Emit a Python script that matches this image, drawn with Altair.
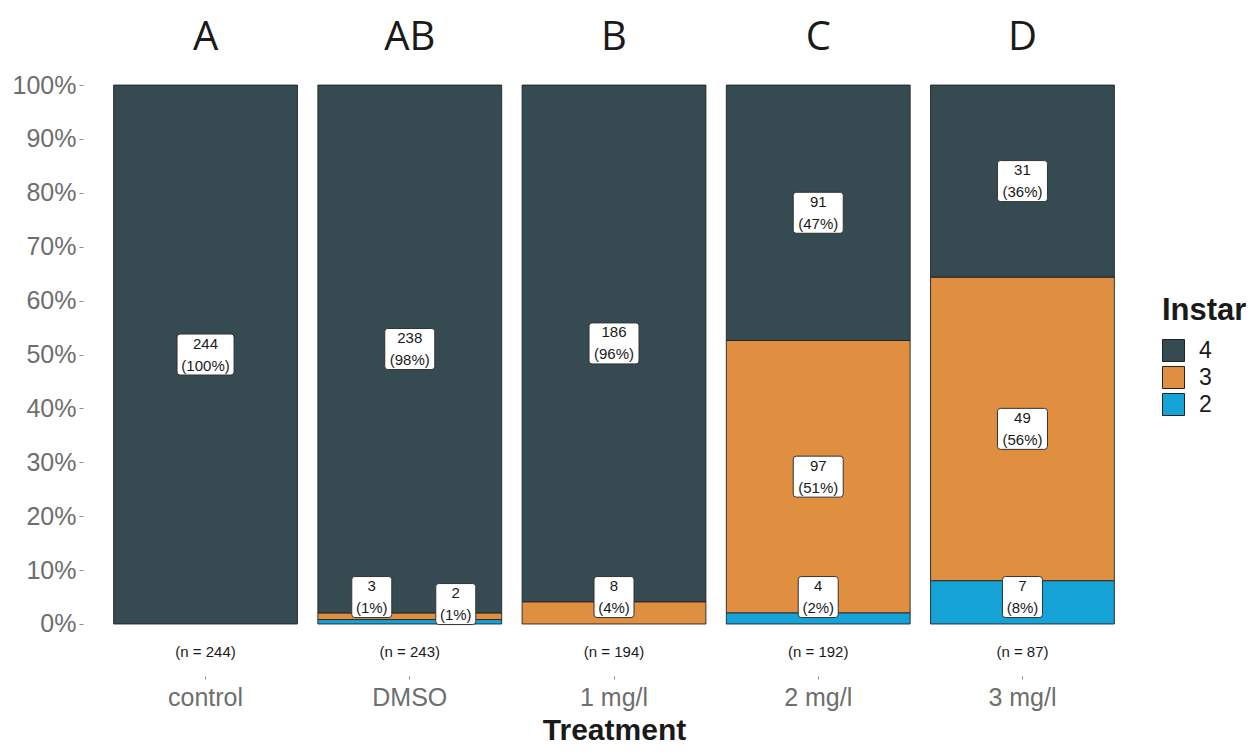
import altair as alt
import pandas as pd

treatments = ["control", "DMSO", "1 mg/l", "2 mg/l", "3 mg/l"]
letters = ["A", "AB", "B", "C", "D"]
instars = ["4", "3", "2"]
counts_4 = [244, 238, 186, 91, 31]
counts_3 = [0, 3, 8, 97, 49]
counts_2 = [0, 2, 0, 4, 7]
colors = ["#364A52", "#DF8F3F", "#15A3D7"]

# label nudges (pixels) for the repelled DMSO labels
nudges = {("DMSO", "3"): (-38, 0), ("DMSO", "2"): (46, 7)}

rows = []
for i, t in enumerate(treatments):
    total = counts_4[i] + counts_3[i] + counts_2[i]
    base = 0.0
    for inst, c in (("2", counts_2[i]), ("3", counts_3[i]), ("4", counts_4[i])):
        if c == 0:
            continue
        frac = c / total
        mid = base + frac / 2
        pct = f"({round(frac * 100)}%)"
        rows.append(dict(
            key=f"{t}|{inst}", treatment=t, instar=inst, order=int(inst), count=c,
            y0=base, y1=base + frac, ly=max(mid, 0.05),
            label=f"{c}\n{pct}", nch=len(pct),
        ))
        base += frac
df = pd.DataFrame(rows)

totals = [counts_4[i] + counts_3[i] + counts_2[i] for i in range(len(treatments))]
df_top = pd.DataFrame({
    "treatment": treatments,
    "letter": letters,
    "ntext": [f"(n = {n})" for n in totals],
    "ly": [1.088] * len(treatments),
    "ny": [-0.052] * len(treatments),
})

BOX_H = 41.0
BOX_R = BOX_H / 2


def box_path(w, dx=0.0, dy=0.0, r=3.0):
    hw = w / BOX_H
    rr = r / BOX_R
    ox, oy = dx / BOX_R, dy / BOX_R

    def p(x, y):
        return f"{x + ox:.4f},{y + oy:.4f}"

    return (f"M{p(-hw+rr,-1)} L{p(hw-rr,-1)} Q{p(hw,-1)} {p(hw,-1+rr)} L{p(hw,1-rr)} "
            f"Q{p(hw,1)} {p(hw-rr,1)} L{p(-hw+rr,1)} Q{p(-hw,1)} {p(-hw,1-rr)} "
            f"L{p(-hw,-1+rr)} Q{p(-hw,-1)} {p(-hw+rr,-1)} Z")


box_widths = {4: 40, 5: 50, 6: 57}

ydom = [-0.0965, 1.143]
yscale = alt.Scale(domain=ydom, nice=False, zero=False)
xsort = treatments

xenc = alt.X(
    "treatment:N", sort=xsort,
    scale=alt.Scale(paddingInner=0.1, paddingOuter=0.15),
    axis=alt.Axis(title="Treatment", labelAngle=0, labelFontSize=25, labelColor="#6e6e6e",
                  labelFont="Liberation Sans", tickColor="#8a8a8a", tickSize=3, labelPadding=6,
                  domain=False, titleFontSize=30, titleFontWeight="bold", titleColor="#1a1a1a",
                  titleFont="Liberation Sans", titlePadding=5),
)

bars = alt.Chart(df).mark_bar(stroke="#222222", strokeWidth=0.9).encode(
    x=xenc,
    y=alt.Y("y0:Q", scale=yscale,
            axis=alt.Axis(title=None, values=[i / 10 for i in range(11)], format=".0%",
                          labelFontSize=25, labelColor="#6e6e6e", labelFont="Liberation Sans",
                          tickColor="#8a8a8a", tickSize=4, labelPadding=3, domain=False, grid=False)),
    y2="y1:Q",
    color=alt.Color("instar:N", scale=alt.Scale(domain=instars, range=colors),
                    legend=alt.Legend(title="Instar", orient="none", legendX=1079, legendY=288,
                                      titleFontSize=31, titleFontWeight="bold", titleColor="#1a1a1a",
                                      titleFont="Liberation Sans", labelFont="Liberation Sans",
                                      labelFontSize=23, labelColor="#1a1a1a", symbolType="square",
                                      symbolSize=484, symbolStrokeColor="#222222", symbolStrokeWidth=1,
                                      symbolOpacity=1, rowPadding=0, titlePadding=12, labelOffset=14)),
    order=alt.Order("order:Q"),
)

layers = [bars]
for _, r in df.iterrows():
    dx, dy = nudges.get((r["treatment"], r["instar"]), (0, 0))
    base = alt.Chart(df).transform_filter(alt.datum.key == r["key"])
    layers.append(base.mark_point(filled=True, fill="white", stroke="#333333", strokeWidth=1,
                                  size=BOX_H * BOX_H, opacity=1,
                                  shape=box_path(box_widths[r["nch"]], dx, dy)).encode(
        x=alt.X("treatment:N", sort=xsort),
        y=alt.Y("ly:Q", scale=yscale),
    ))
    layers.append(base.mark_text(lineBreak="\n", fontSize=15, lineHeight=22, font="Liberation Sans",
                                 color="#1a1a1a", baseline="middle", dx=dx, dy=dy - 11).encode(
        x=alt.X("treatment:N", sort=xsort),
        y=alt.Y("ly:Q", scale=yscale),
        text="label:N",
    ))

letters_layer = alt.Chart(df_top).mark_text(fontSize=40, font="Open Sans", color="#1a1a1a",
                                             baseline="middle").encode(
    x=alt.X("treatment:N", sort=xsort), y=alt.Y("ly:Q", scale=yscale), text="letter:N")
n_layer = alt.Chart(df_top).mark_text(fontSize=15, font="Liberation Sans", color="#1a1a1a",
                                       baseline="middle").encode(
    x=alt.X("treatment:N", sort=xsort), y=alt.Y("ny:Q", scale=yscale), text="ntext:N")
layers += [letters_layer, n_layer]

chart = alt.layer(*layers).properties(
    width=1062, height=668,
    autosize=alt.AutoSizeParams(type="none"),
    padding={"left": 75, "right": 102, "top": 0, "bottom": 69},
    background="white",
).configure_view(stroke=None)

chart.save("out.html", embed_options={"renderer": "svg", "actions": False})
